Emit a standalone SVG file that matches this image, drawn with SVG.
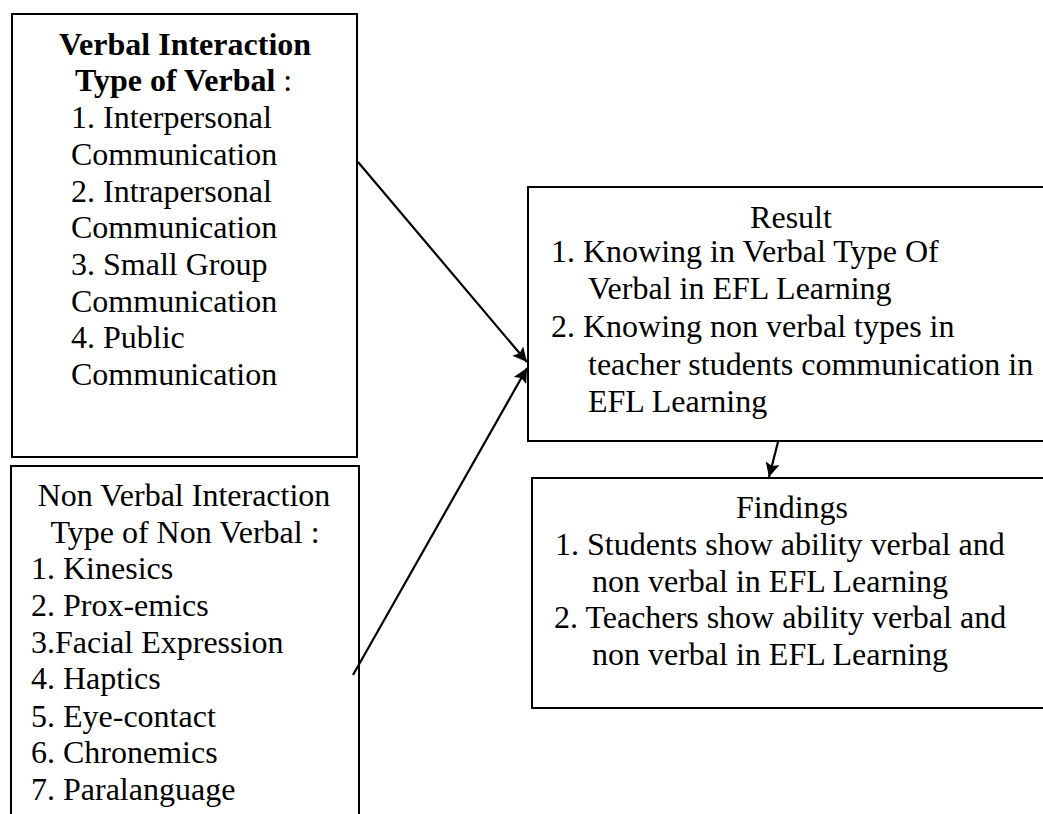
<svg xmlns="http://www.w3.org/2000/svg" width="1043" height="814" viewBox="0 0 1043 814">
<style>
.box{fill:#fff;stroke:#000;stroke-width:2}
text{font-family:"Liberation Serif","Times New Roman",serif;font-size:32px;fill:#000}
.b{font-weight:bold}
.c{text-anchor:middle}
.con{stroke:#000;stroke-width:2.2;fill:none}
</style>
<defs>
<marker id="ah" viewBox="0 0 10 10" refX="10" refY="5" markerWidth="7.5" markerHeight="6.5" markerUnits="strokeWidth" orient="auto">
<path d="M0,0 L10,5 L0,10 L2,5 Z" fill="#000"/>
</marker>
</defs>
<rect width="1043" height="814" fill="#fff"/>
<g id="verbal">
<rect class="box" x="12" y="14" width="345" height="443"/>
<text class="c" x="185" y="55"><tspan class="b">Verbal Interaction</tspan></text>
<text x="75" y="91"><tspan class="b">Type of Verbal</tspan> :</text>
<text x="71" y="128">1. Interpersonal</text>
<text x="71" y="165">Communication</text>
<text x="71" y="202">2. Intrapersonal</text>
<text x="71" y="238">Communication</text>
<text x="71" y="275">3. Small Group</text>
<text x="71" y="312">Communication</text>
<text x="71" y="348">4. Public</text>
<text x="71" y="385">Communication</text>
</g>
<g id="nonverbal">
<rect class="box" x="11" y="466" width="348" height="360"/>
<text class="c" x="184" y="506">Non Verbal Interaction</text>
<text class="c" x="185" y="543">Type of Non Verbal :</text>
<text x="31" y="579">1. Kinesics</text>
<text x="31" y="616">2. Prox-emics</text>
<text x="31" y="653">3.Facial Expression</text>
<text x="31" y="689">4. Haptics</text>
<text x="31" y="727">5. Eye-contact</text>
<text x="31" y="763">6. Chronemics</text>
<text x="31" y="800">7. Paralanguage</text>
</g>
<g id="result">
<rect class="box" x="528" y="187" width="530" height="254"/>
<text class="c" x="791" y="228">Result</text>
<text x="551" y="262">1. Knowing in Verbal Type Of</text>
<text x="588" y="299">Verbal in EFL Learning</text>
<text x="551" y="337">2. Knowing non verbal types in</text>
<text x="588" y="375">teacher students communication in</text>
<text x="588" y="412">EFL Learning</text>
</g>
<g id="findings">
<rect class="box" x="532" y="478" width="526" height="230"/>
<text class="c" x="792" y="518">Findings</text>
<text x="555" y="555">1. Students show ability verbal and</text>
<text x="592" y="592">non verbal in EFL Learning</text>
<text x="554" y="628">2. Teachers show ability verbal and</text>
<text x="592" y="665">non verbal in EFL Learning</text>
</g>
<g id="connectors">
<line class="con" x1="358" y1="162" x2="527" y2="362" marker-end="url(#ah)"/>
<line class="con" x1="353" y1="675" x2="527" y2="368" marker-end="url(#ah)"/>
<line class="con" x1="778" y1="442" x2="769" y2="477" marker-end="url(#ah)"/>
</g>
</svg>
